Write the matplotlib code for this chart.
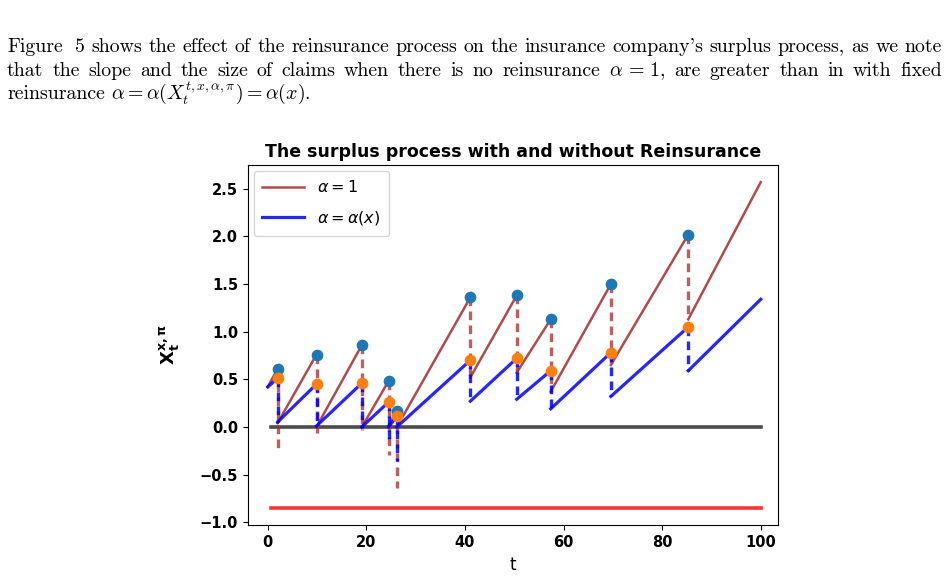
import matplotlib
matplotlib.use('Agg')
import matplotlib.pyplot as plt
import numpy as np

# ---------------- data ----------------
t_start = 0.0
x_start = 0.42
t_end = 100.0
claim_t = [2.0, 9.9, 19.1, 24.5, 26.2, 41.1, 50.5, 57.4, 69.6, 85.3]
red_pre = [0.61, 0.76, 0.86, 0.48, 0.17, 1.36, 1.38, 1.13, 1.50, 2.02]
red_post = [-0.27, -0.06, -0.03, -0.30, -0.64, 0.52, 0.57, 0.37, 0.65, 1.13]
red_restart = [0.04, 0.0, 0.0, 0.01, 0.0, 0.52, 0.57, 0.37, 0.65, 1.13]
red_end = 2.57
blue_pre = [0.51, 0.45, 0.46, 0.26, 0.11, 0.70, 0.72, 0.59, 0.78, 1.05]
blue_post = [0.05, 0.01, -0.01, -0.17, -0.36, 0.27, 0.29, 0.19, 0.32, 0.59]
blue_restart = [0.05, 0.01, 0.0, 0.0, 0.0, 0.27, 0.29, 0.19, 0.32, 0.59]
blue_end = 1.34
ruin_level = -0.85
level_t = [0.6, 100.0]

title = "The surplus process with and without Reinsurance"
label_red = r"$\alpha=1$"
label_blue = r"$\alpha=\alpha(x)$"
xticks = [0, 20, 40, 60, 80, 100]
yticks = [-1.0, -0.5, 0.0, 0.5, 1.0, 1.5, 2.0, 2.5]

para_lines = [
    "Figure  5 shows the effect of the reinsurance process on the insurance company's surplus process, as we note",
    r"that the slope and the size of claims when there is no reinsurance $\alpha\,=\,1$, are greater than in with fixed",
    r"reinsurance $\alpha = \alpha(X_t^{t,x,\alpha,\pi}) = \alpha(x)$.",
]

# ---------------- figure ----------------
plt.rcParams['mathtext.fontset'] = 'dejavusans'
W, H = 948, 580
fig = plt.figure(figsize=(W / 100, H / 100), dpi=100)

ax = fig.add_axes([248 / W, 1 - 525 / H, 530 / W, 360 / H])


def path(t0, x0, ts, pre, restart, tend, xend):
    xs, ys = [], []
    pt, px = t0, x0
    for ti, p, r in zip(ts, pre, restart):
        xs += [pt, ti, np.nan]
        ys += [px, p, np.nan]
        pt, px = ti, r
    xs += [pt, tend]
    ys += [px, xend]
    return xs, ys


rx, ry = path(t_start, x_start, claim_t, red_pre, red_restart, t_end, red_end)
bx, by = path(t_start, x_start, claim_t, blue_pre, blue_restart, t_end, blue_end)

red_c = 'brown'
ax.plot(rx, ry, color=red_c, alpha=0.85, lw=1.8, label=label_red, zorder=2)
ax.plot(bx, by, color='blue', alpha=0.85, lw=2.3, label=label_blue, zorder=3)

for ti, a, b in zip(claim_t, red_pre, red_post):
    ax.plot([ti, ti], [a, b], color=red_c, alpha=0.75, lw=2.4, ls=(0, (2.6, 1.6)), zorder=2)
for ti, a, b in zip(claim_t, blue_pre, blue_post):
    ax.plot([ti, ti], [a, b], color='blue', alpha=0.85, lw=2.4, ls=(0, (2.6, 1.6)), zorder=3)

ax.plot(level_t, [0, 0], color='black', alpha=0.7, lw=2.6, zorder=1)
ax.plot(level_t, [ruin_level, ruin_level], color='red', alpha=0.8, lw=2.6, zorder=1)

ax.scatter(claim_t, red_pre, s=55, color='C0', zorder=4)
ax.scatter(claim_t, blue_pre, s=55, color='C1', zorder=4)

ax.set_xlim(-4.0, 103.5)
ax.set_ylim(-1.03, 2.75)
ax.set_xticks(xticks)
ax.set_yticks(yticks)
ax.tick_params(labelsize=10.5)
for lab in ax.get_xticklabels() + ax.get_yticklabels():
    lab.set_fontweight('bold')

ax.set_title(title, fontsize=12.5, fontweight='bold', pad=6)
ax.set_xlabel('t', fontsize=12)
ax.xaxis.set_label_coords(0.5, -0.085)
ax.set_ylabel(r'$\mathbf{X_t^{x,\pi}}$', fontsize=13)
ax.yaxis.set_label_coords(-0.125, 0.5)

ax.legend(loc='upper left', fontsize=11.5, handlelength=2.6, borderaxespad=0.35,
          labelspacing=0.85, borderpad=0.55)

# ---------------- paragraph (justified) ----------------
pfam = ['cmr10', 'DejaVu Serif']
renderer = fig.canvas.get_renderer()
x_left, x_right = 7, 942
baselines = [52, 76, 99]
fs = 14.3


def draw_line(text, ybase, justify):
    words = []
    cur = ''
    inmath = False
    for ch in text:
        if ch == '$':
            inmath = not inmath
        if ch == ' ' and not inmath:
            words.append(cur)
            cur = ''
        else:
            cur += ch
    words.append(cur)
    objs = []
    for w in words:
        t = fig.text(0, 1 - ybase / H, w, fontsize=fs, family=pfam,
                     va='baseline', ha='left', math_fontfamily='cm')
        objs.append(t)
    widths = []
    for t in objs:
        if t.get_text():
            widths.append(t.get_window_extent(renderer).width)
        else:
            widths.append(0.0)
    space = fs * 100 / 72 * 0.333
    ngaps = len(objs) - 1
    if justify and ngaps > 0:
        gap = max(1.0, (x_right - x_left - sum(widths)) / ngaps)
    else:
        gap = space
    x = x_left
    for t, w in zip(objs, widths):
        t.set_x(x / W)
        x += w + gap


for i, line in enumerate(para_lines):
    draw_line(line, baselines[i], justify=(i < 2))

fig.savefig('out.png', dpi=100)
